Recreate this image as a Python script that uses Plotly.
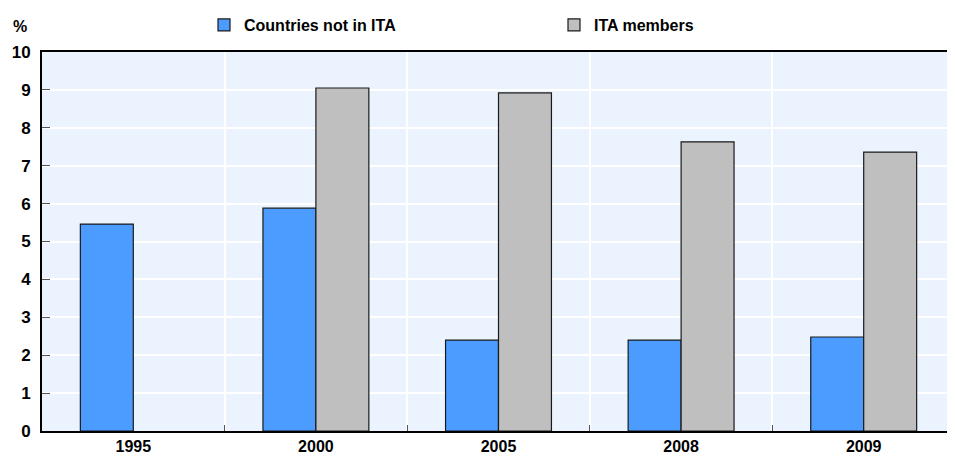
import plotly.graph_objects as go

# Chart data
years = ["1995", "2000", "2005", "2008", "2009"]
not_ita = [5.46, 5.88, 2.40, 2.40, 2.48]
ita_members = [None, 9.05, 8.92, 7.63, 7.36]
y_ticks = [0, 1, 2, 3, 4, 5, 6, 7, 8, 9, 10]

FONT = "Liberation Sans, Arial, sans-serif"

fig = go.Figure()
fig.add_trace(go.Bar(x=years, y=not_ita, name="Countries not in ITA",
                     marker=dict(color="#4C9BFF", line=dict(color="#1a1a1a", width=1.2))))
fig.add_trace(go.Bar(x=years, y=ita_members, name="ITA members",
                     marker=dict(color="#BFBFBF", line=dict(color="#1a1a1a", width=1.2))))

# the page has an 8px body margin, so the figure is a bit smaller than the window
fig.update_layout(
    width=947, height=455,
    margin=dict(l=34, r=0, t=44, b=32),
    barmode="group", bargap=0.42, bargroupgap=0,
    plot_bgcolor="#EBF4FE", paper_bgcolor="white",
    font=dict(family=FONT, size=16, color="black", weight="bold"),
    showlegend=True,
    legend=dict(orientation="h", x=(204 - 42) / 913, xanchor="left",
                yref="container", y=1.0, yanchor="top",
                entrywidth=305, entrywidthmode="pixels",
                font=dict(family=FONT, size=16, color="black", weight="bold"),
                bgcolor="rgba(0,0,0,0)"),
)
fig.update_xaxes(type="category", tickson="boundaries", showgrid=True, gridcolor="white", gridwidth=1.5,
                 ticks="inside", ticklen=6, tickcolor="#555", showline=True, linecolor="black",
                 linewidth=2, mirror=True, automargin=False,
                 tickfont=dict(size=16, family=FONT, weight="bold"))
fig.update_yaxes(range=[0, 10], tickvals=y_ticks, showgrid=True, gridcolor="white", gridwidth=1.5,
                 ticks="inside", ticklen=8, tickcolor="#555", showline=True, linecolor="black",
                 linewidth=2, zeroline=False, automargin=False, ticklabelstandoff=6,
                 tickfont=dict(size=17, family=FONT, weight="bold"))

fig.add_annotation(text="%", xref="paper", yref="paper", x=(20 - 42) / 913, y=1 + (52 - 27) / 371,
                   xanchor="center", yanchor="middle", showarrow=False,
                   font=dict(size=16, family=FONT, weight="bold"))

fig.write_html("out.html")
